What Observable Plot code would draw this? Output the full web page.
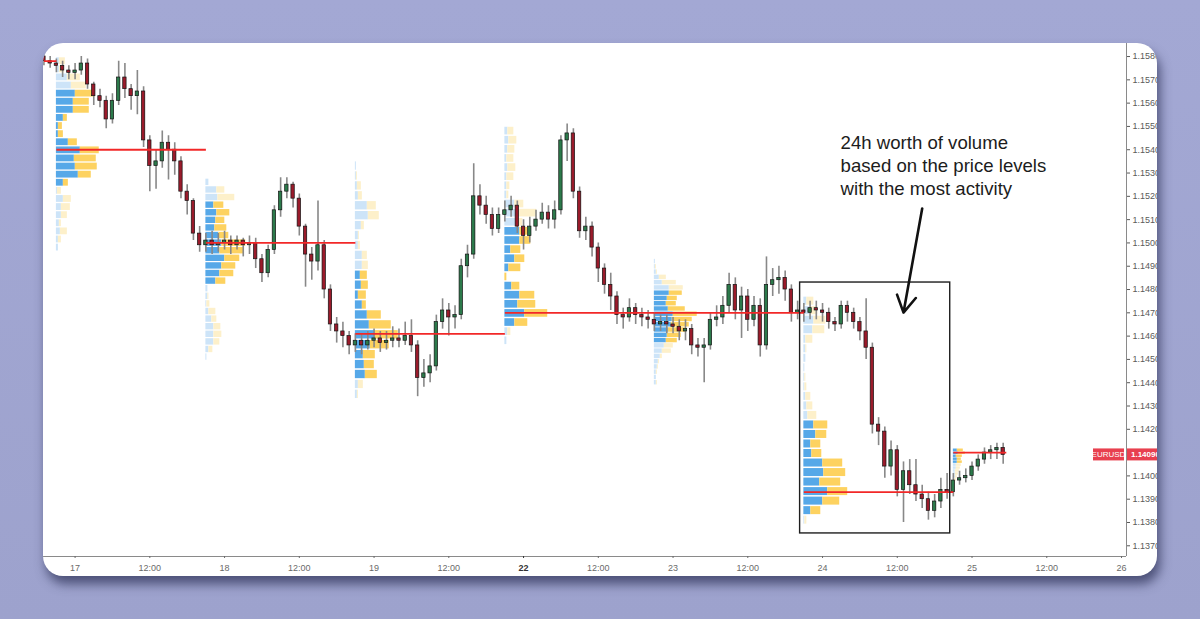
<!DOCTYPE html>
<html><head><meta charset="utf-8">
<script src="https://cdn.jsdelivr.net/npm/d3@7"></script>
<script src="https://cdn.jsdelivr.net/npm/@observablehq/plot@0.6"></script>
<style>
html,body{margin:0;padding:0;}
body{width:1200px;height:619px;background:linear-gradient(180deg,#a3a8d4 0%,#9da2cd 100%);position:relative;overflow:hidden;font-family:"Liberation Sans",Arial,sans-serif;}
#card{position:absolute;left:43px;top:43px;width:1114px;height:533px;background:#fff;border-radius:20px;overflow:hidden;box-shadow:3px 8px 11px rgba(42,45,82,0.7);}
#card svg{display:block;}
</style></head><body><div id="card"></div>
<script>
// ---------- hourly EURUSD candles (hours from 17th 00:00, trading days only) ----------
const hours = d3.range(-5, 150);
const opens = [
1.1580,1.1578,1.1577,1.1576,1.1574,
1.1573,1.1574,1.1577,1.1568,1.1563,1.1561,1.1553,1.1561,1.1571,1.1566,1.1563,1.1565,
1.1544,1.1533,1.1535,1.1543,1.1540,1.1535,1.1522,1.1518,1.1504,1.1499,1.1501,1.1499,
1.1500,1.1501,1.1499,1.1501,1.1499,1.1500,1.1493,1.1487,1.1497,1.1514,1.1522,1.1525,
1.1519,1.1507,1.1495,1.1492,1.1499,1.1480,1.1465,1.1462,1.1460,1.1456,1.1458,1.1456,
1.1458,1.1459,1.1457,1.1458,1.1459,1.1458,1.1460,1.1456,1.1442,1.1444,1.1447,1.1466,
1.1471,1.1468,1.1469,1.1490,1.1495,1.1520,1.1516,1.1512,1.1506,1.1512,1.1514,1.1516,
1.1507,1.1503,1.1507,1.1510,1.1513,1.1510,1.1514,1.1544,1.1547,1.1522,1.1505,1.1507,
1.1498,1.1489,1.1482,1.1477,1.1469,1.1468,1.1472,1.1469,1.1468,1.1467,1.1465,1.1466,
1.1465,1.1464,1.1462,1.1463,1.1456,1.1455,1.1456,1.1467,1.1468,1.1473,1.1482,1.1471,
1.1477,1.1467,1.1473,1.1456,1.1482,1.1484,1.1485,1.1480,1.1470,1.1471,1.1470,1.1472,
1.1471,1.1470,1.1466,1.1465,1.1473,1.1470,1.1466,1.1462,1.1455,1.1422,1.1419,1.1404,
1.1411,1.1394,1.1402,1.1396,1.1392,1.1390,1.1385,1.1389,1.1394,1.1393,1.1398,1.1399,
1.1400,1.1404,1.1407,1.1410,1.1411,1.1412];
const highs = [
1.1582,1.1580,1.1579,1.1578,1.1576,
1.1577,1.1580,1.1579,1.1569,1.1566,1.1563,1.1564,1.1578,1.1577,1.1568,1.1574,1.1567,
1.1546,1.1540,1.1548,1.1546,1.1543,1.1537,1.1525,1.1519,1.1507,1.1504,1.1505,1.1504,
1.1505,1.1503,1.1503,1.1502,1.1503,1.1502,1.1495,1.1499,1.1516,1.1528,1.1528,1.1526,
1.1521,1.1508,1.1498,1.1518,1.1501,1.1482,1.1468,1.1466,1.1462,1.1461,1.1461,1.1462,
1.1463,1.1462,1.1462,1.1464,1.1463,1.1466,1.1467,1.1458,1.1450,1.1452,1.1469,1.1476,
1.1474,1.1473,1.1493,1.1499,1.1534,1.1525,1.1520,1.1515,1.1515,1.1518,1.1520,1.1518,
1.1510,1.1511,1.1514,1.1517,1.1516,1.1518,1.1546,1.1551,1.1549,1.1524,1.1511,1.1509,
1.1500,1.1491,1.1487,1.1479,1.1472,1.1476,1.1474,1.1472,1.1471,1.1470,1.1469,1.1469,
1.1468,1.1467,1.1467,1.1465,1.1459,1.1459,1.1470,1.1473,1.1477,1.1487,1.1485,1.1481,
1.1480,1.1477,1.1476,1.1494,1.1489,1.1490,1.1488,1.1482,1.1475,1.1474,1.1475,1.1475,
1.1474,1.1472,1.1468,1.1475,1.1475,1.1472,1.1468,1.1476,1.1457,1.1425,1.1421,1.1415,
1.1413,1.1406,1.1407,1.1407,1.1396,1.1393,1.1392,1.1399,1.1401,1.1401,1.1402,1.1403,
1.1406,1.1409,1.1412,1.1413,1.1414,1.1414];
const lows = [
1.1576,1.1575,1.1573,1.1571,1.1570,
1.1570,1.1572,1.1566,1.1559,1.1558,1.1549,1.1551,1.1559,1.1562,1.1557,1.1555,1.1541,
1.1522,1.1523,1.1532,1.1527,1.1529,1.1519,1.1512,1.1501,1.1496,1.1496,1.1495,1.1496,
1.1497,1.1495,1.1497,1.1494,1.1495,1.1489,1.1483,1.1485,1.1495,1.1511,1.1519,1.1515,
1.1503,1.1481,1.1484,1.1488,1.1476,1.1462,1.1457,1.1455,1.1452,1.1453,1.1452,1.1454,
1.1455,1.1453,1.1454,1.1455,1.1455,1.1456,1.1453,1.1434,1.1438,1.1440,1.1445,1.1463,
1.1460,1.1463,1.1467,1.1485,1.1493,1.1512,1.1508,1.1503,1.1504,1.1509,1.1511,1.1504,
1.1497,1.1500,1.1505,1.1508,1.1506,1.1506,1.1512,1.1535,1.1519,1.1502,1.1501,1.1494,
1.1483,1.1478,1.1471,1.1465,1.1463,1.1466,1.1465,1.1464,1.1463,1.1462,1.1462,1.1461,
1.1461,1.1458,1.1458,1.1452,1.1451,1.1440,1.1454,1.1464,1.1465,1.1470,1.1467,1.1459,
1.1462,1.1464,1.1451,1.1454,1.1477,1.1478,1.1475,1.1466,1.1467,1.1466,1.1467,1.1467,
1.1466,1.1463,1.1462,1.1463,1.1466,1.1463,1.1458,1.1450,1.1418,1.1413,1.1399,1.1400,
1.1391,1.1380,1.1392,1.1389,1.1386,1.1381,1.1382,1.1386,1.1390,1.1391,1.1396,1.1397,
1.1398,1.1402,1.1405,1.1407,1.1407,1.1405];
const closes = [
1.1578,1.1577,1.1576,1.1574,1.1573,
1.1574,1.1577,1.1568,1.1563,1.1561,1.1553,1.1561,1.1571,1.1566,1.1563,1.1565,1.1544,
1.1533,1.1535,1.1543,1.1540,1.1535,1.1522,1.1518,1.1504,1.1499,1.1501,1.1499,1.1500,
1.1501,1.1499,1.1501,1.1499,1.1500,1.1493,1.1487,1.1497,1.1514,1.1522,1.1525,1.1519,
1.1507,1.1495,1.1492,1.1499,1.1480,1.1465,1.1462,1.1460,1.1456,1.1458,1.1456,1.1458,
1.1459,1.1457,1.1458,1.1459,1.1458,1.1460,1.1456,1.1442,1.1444,1.1447,1.1466,1.1471,
1.1468,1.1469,1.1490,1.1495,1.1520,1.1516,1.1512,1.1506,1.1512,1.1514,1.1516,1.1507,
1.1503,1.1507,1.1510,1.1513,1.1510,1.1514,1.1544,1.1547,1.1522,1.1505,1.1507,1.1498,
1.1489,1.1482,1.1477,1.1469,1.1468,1.1472,1.1469,1.1468,1.1467,1.1465,1.1466,1.1465,
1.1464,1.1462,1.1463,1.1456,1.1455,1.1456,1.1467,1.1468,1.1473,1.1482,1.1471,1.1477,
1.1467,1.1473,1.1456,1.1482,1.1484,1.1485,1.1480,1.1470,1.1471,1.1470,1.1472,1.1471,
1.1470,1.1466,1.1465,1.1473,1.1470,1.1466,1.1462,1.1455,1.1422,1.1419,1.1404,1.1411,
1.1394,1.1402,1.1396,1.1392,1.1390,1.1385,1.1389,1.1394,1.1393,1.1398,1.1399,1.1400,
1.1404,1.1407,1.1410,1.1411,1.1412,1.1409];

// ---------- session volume profiles (one per 24h session) ----------
const profileStart  = [-3, 21, 45, 69, 93, 117, 141];
const profileTop    = [1.1578, 1.1526, 1.1533, 1.1548, 1.1492, 1.1475, 1.1411];
const profileBottom = [1.1498, 1.1451, 1.1435, 1.1458, 1.1440, 1.1381, 1.1397];
const profileValueArea = [[4,15],[3,13],[11,21],[11,21],[6,15],[13,22],[0,4]];
const buyVolume = [
  [3,3,11,15,19,17,17,7,2,2,12,24,18,19,22,7,1,7,5,5,3,4,2,2],
  [3,11,12,8,11,10,9,13,16,14,19,16,14,10,2,2,1,3,6,8,8,8,3,1],
  [1,1,2,3,12,13,6,3,3,7,7,5,6,3,7,12,14,20,15,8,9,10,3,2],
  [3,4,3,2,3,2,2,2,10,13,12,15,15,6,10,4,0,7,15,13,20,10,3,2],
  [1,1,2,5,8,15,15,13,12,14,19,18,17,14,13,12,10,8,6,4,3,2,2,2],
  [3,6,10,9,2,2,2,1,1,1,2,3,4,10,12,7,8,19,20,16,24,19,7,1],
  [4,5,3,4,4,3,3,2,2,2,1,1]
];
const sellVolume = [
  [6,5,13,15,20,16,16,4,4,5,9,19,22,22,13,5,4,8,9,6,2,7,3,0],
  [0,8,17,10,13,9,12,10,24,24,15,14,14,10,0,1,3,7,5,7,8,6,4,0],
  [0,1,4,4,9,11,3,1,2,5,6,7,7,8,4,14,22,23,19,12,10,12,5,1],
  [6,8,7,7,8,7,3,2,9,19,6,8,11,10,10,12,2,8,15,18,23,13,3,0],
  [0,1,1,7,14,14,13,10,10,17,24,20,18,18,14,11,9,9,2,1,1,1,0,1],
  [7,8,12,12,7,1,0,0,1,2,5,6,9,14,11,10,10,20,22,21,20,17,10,2],
  [6,7,6,4,5,5,4,4,3,2,2,1]
];
const pocPrice = [1.1578, 1.1540, 1.1500, 1.1461, 1.1470, 1.1470, 1.1393, 1.1410];
const pocFrom  = [-5, -3, 21, 45, 69, 93, 117, 141];
const pocTo    = [-3, 21, 45, 69, 93, 117, 141, 149.5];

// ---------- axes ----------
const priceTicks = d3.range(1.137, 1.15801, 0.001).map(v => +v.toFixed(3));
const timeTicks = [0,12,24,36,48,60,72,84,96,108,120,132,144,156,168];
const timeLabels = ["17","12:00","18","12:00","19","12:00","22","12:00","23","12:00","24","12:00","25","12:00","26"];
const boldTick = 72;

// ---------- annotation ----------
const noteLines = ["24h worth of volume", "based on the price levels", "with the most activity"];
const noteX = 122.9;
const noteY = [1.15427, 1.15328, 1.15233];
const boxX = [116.4, 140.5];
const boxY = [1.13753, 1.14830];
const arrowFrom = [136.0, 1.15148];
const arrowTo = [133.0, 1.14701];
const symbol = "EURUSD";

// ---------- build tables ----------
const candles = hours.map((t, i) => ({t, open: opens[i], high: highs[i], low: lows[i], close: closes[i]}));
const volumeScale = 0.16; // hours per volume unit
const profileRows = [];
profileStart.forEach((s, k) => {
  const n = buyVolume[k].length;
  const step = (profileTop[k] - profileBottom[k]) / (n - 1);
  buyVolume[k].forEach((b, i) => {
    const c = profileTop[k] - i * step;
    const va = i >= profileValueArea[k][0] && i <= profileValueArea[k][1];
    profileRows.push({x1: s, xb: s + b * volumeScale, x2: s + (b + sellVolume[k][i]) * volumeScale,
      y1: c - step * 0.42, y2: c + step * 0.42, va});
  });
});
const pocs = pocPrice.map((p, i) => ({price: p, from: pocFrom[i], to: pocTo[i]}));
const notes = noteLines.map((text, i) => ({text, x: noteX, y: noteY[i]}));

const xDomain = [-5.07, 168.8];
const yDomain = [1.13654, 1.15856];
const fontFamily = "Liberation Sans, Arial, sans-serif";

const plot = Plot.plot({
  width: 1114, height: 533,
  marginLeft: 0, marginRight: 31, marginTop: 0, marginBottom: 20,
  style: {fontFamily, background: "transparent", overflow: "visible"},
  x: {domain: xDomain},
  y: {domain: yDomain},
  marks: [
    Plot.rect(profileRows, {x1: "x1", x2: "xb", y1: "y1", y2: "y2", fill: d => d.va ? "#56a8e8" : "#cde4f8"}),
    Plot.rect(profileRows, {x1: "xb", x2: "x2", y1: "y1", y2: "y2", fill: d => d.va ? "#fdd260" : "#fdf0ca"}),
    Plot.ruleX(candles, {x: "t", y1: "low", y2: "high", stroke: "#888888", strokeWidth: 1.6}),
    Plot.rect(candles, {x1: d => d.t - 0.27, x2: d => d.t + 0.27, y1: "open", y2: "close",
      fill: d => d.close >= d.open ? "#2c7a4b" : "#9a1b2b", stroke: "#141414", strokeWidth: 0.7}),
    Plot.link(pocs, {x1: "from", x2: "to", y1: "price", y2: "price", stroke: "#f22828", strokeWidth: 1.8}),
    Plot.rect([0], {x1: boxX[0], x2: boxX[1], y1: boxY[0], y2: boxY[1], fill: "none", stroke: "#1e1e1e", strokeWidth: 1.4}),
    Plot.arrow([0], {x1: arrowFrom[0], y1: arrowFrom[1], x2: arrowTo[0], y2: arrowTo[1], stroke: "#111", strokeWidth: 2.6, headLength: 11}),
    Plot.text(notes, {x: "x", y: "y", text: "text", textAnchor: "start", fontSize: 18.6, fill: "#1c1c1c"}),
    Plot.ruleX([xDomain[1]], {stroke: "#8a8a8a"}),
    Plot.ruleY([yDomain[0]], {stroke: "#8a8a8a"}),
    Plot.axisY({anchor: "right", ticks: priceTicks.filter(v => Math.abs(v - 1.141) > 1e-6), tickFormat: d => d.toFixed(5), tickSize: 3, tickPadding: 3, fontSize: 9, color: "#5a5a5a"}),
    Plot.axisX({ticks: timeTicks.filter(t => t !== boldTick), tickFormat: t => timeLabels[timeTicks.indexOf(t)], tickSize: 2, tickPadding: 6, fontSize: 9, color: "#6a6a6a"}),
    Plot.axisX({ticks: [boldTick], tickFormat: t => timeLabels[timeTicks.indexOf(t)], tickSize: 2, tickPadding: 6, fontSize: 9, fontWeight: "bold", color: "#333"})
  ]
});
document.getElementById("card").appendChild(plot);

// last-price label on the price axis
const last = closes[closes.length - 1];
const yl = plot.scale("y").apply(last);
const xr = plot.scale("x").apply(xDomain[1]);
const svg = d3.select(plot);
const g = svg.append("g").attr("font-family", fontFamily).attr("font-size", 8).attr("fill", "#fff");
g.append("rect").attr("x", xr - 33).attr("y", yl - 6).attr("width", 31).attr("height", 12).attr("fill", "#e8404f");
g.append("text").attr("x", xr - 17.5).attr("y", yl).attr("dy", "0.35em").attr("text-anchor", "middle").text(symbol);
g.append("rect").attr("x", xr + 1).attr("y", yl - 6).attr("width", 40).attr("height", 12).attr("fill", "#e8404f");
g.append("text").attr("x", xr + 5).attr("y", yl).attr("dy", "0.35em").attr("text-anchor", "start").attr("font-weight", "bold").text(last.toFixed(5));
</script></body></html>
